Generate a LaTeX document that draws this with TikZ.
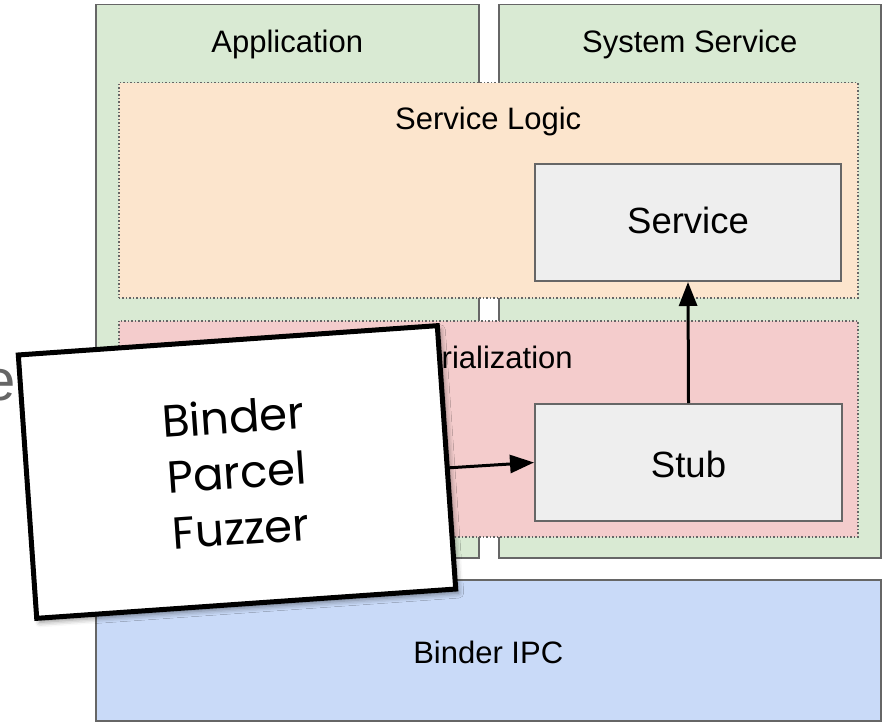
\documentclass[tikz,border=0pt]{standalone}
\usepackage{fontspec}
\setmainfont{Liberation Sans}
\newfontfamily\handfont{Poppins}
\usetikzlibrary{positioning,arrows.meta,shadows.blur}
\definecolor{procgreen}{HTML}{D9EAD3}
\definecolor{logicorange}{HTML}{FCE5CD}
\definecolor{serialred}{HTML}{F4CCCC}
\definecolor{ipcblue}{HTML}{C9DAF8}
\definecolor{unitgray}{HTML}{EEEEEE}
\definecolor{edgegray}{HTML}{666666}
\begin{document}
\begin{tikzpicture}[x=1pt, y=-1pt,
                    panel/.style={rectangle, draw=edgegray, line width=1.5pt, anchor=north west, inner sep=0pt},
                    layer/.style={rectangle, draw=edgegray, line width=1.5pt, dotted, anchor=north west, inner sep=0pt},
                    unit/.style={rectangle, draw=edgegray, line width=2pt, fill=unitgray, anchor=north west, inner sep=0pt, font=\fontsize{36.5}{42}\selectfont},
                    lbl/.style={anchor=base, font=\fontsize{31}{37}\selectfont},
                    flow/.style={-{Triangle[length=24pt, width=18pt]}, line width=3pt},
                    card/.style={rectangle, draw=black, fill=white, line width=5pt, align=center, minimum width=420pt, minimum height=264pt,
                                 font=\handfont\fontsize{45}{56}\selectfont,
                                 blur shadow={shadow xshift=3pt, shadow yshift=-4pt, shadow blur radius=5pt, shadow opacity=45}}]
\useasboundingbox (0,0) rectangle (885,722);

\node[panel, fill=procgreen, minimum width=383pt, minimum height=553pt] (app) at (95,4) {};
\node[panel, fill=procgreen, minimum width=382pt, minimum height=553pt] (sys) at (498,4) {};
\node[panel, fill=ipcblue, minimum width=785pt, minimum height=141pt] (ipc) at (95,579) {};

\node[layer, fill=logicorange, minimum width=739pt, minimum height=215pt] (logic) at (118,82) {};
\node[layer, fill=serialred, minimum width=739pt, minimum height=216pt] (serial) at (118,320) {};

\node[unit, minimum width=306pt, minimum height=117pt] (service) at (534,163) {};
\node[unit, minimum width=307pt, minimum height=117pt] (stub) at (534,403) {};

\node[lbl] at ([yshift=-49pt]app.north) {Application};
\node[lbl] at ([yshift=-49pt]sys.north) {System Service};
\node[lbl] at ([yshift=-48pt]logic.north) {Service Logic};
\node[lbl] at ([yshift=-48pt]serial.north) {Serialization};
\node[lbl] at ([yshift=-84pt]ipc.north) {Binder IPC};
\node[lbl, font=\fontsize{36.5}{42}\selectfont] at ([yshift=-70pt]service.north) {Service};
\node[lbl, font=\fontsize{36.5}{42}\selectfont] at ([yshift=-74pt]stub.north) {Stub};

\draw[flow] (stub.north) -- (service.south);
\coordinate (feed) at (430,469);
\draw[flow] (feed) -- (stub.west);

\node[anchor=base east, text=edgegray, font=\fontsize{58}{64}\selectfont, inner sep=0pt] (cue) at (16,400) {e};

\node[card, rotate=4] (fuzzer) at (237,472) {Binder\\Parcel\\Fuzzer};
\end{tikzpicture}
\end{document}
